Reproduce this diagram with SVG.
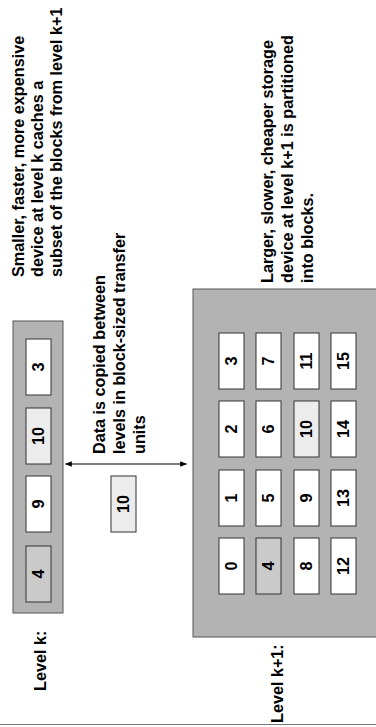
<svg xmlns="http://www.w3.org/2000/svg" width="376" height="727" viewBox="0 0 376 727">
<style>
text{font-family:"Liberation Sans",Arial,sans-serif;font-weight:bold;font-size:16.2px;fill:#000}
.num{text-anchor:middle}
.box{fill:#b3b3b3;stroke:#555;stroke-width:1}
.cell{fill:#fff;stroke:#333;stroke-width:1}
.dark{fill:#cacaca}
.light{fill:#ececec}
.conn{stroke:#000;stroke-width:1.2;fill:none}
</style>
<defs>
<marker id="ah" viewBox="0 0 10 10" refX="9" refY="5" markerWidth="7" markerHeight="7" orient="auto-start-reverse" markerUnits="userSpaceOnUse">
<path d="M0,1 L10,5 L0,9 z" fill="#000"/>
</marker>
</defs>
<rect width="376" height="727" fill="#fff"/>
<line x1="0" y1="724.5" x2="376" y2="724.5" stroke="#777" stroke-width="1"/>
<g transform="matrix(0,-1,1,0,0,727)" font-weight="bold">
<g id="levelk-label"><text x="36" y="46">Level k:</text></g>
<g id="levelk1-label"><text x="4" y="283">Level k+1:</text></g>
<g id="note-smaller">
<text x="450" y="24">Smaller, faster, more expensive</text>
<text x="450" y="43">device at level k caches a</text>
<text x="450" y="62">subset of the blocks from level k+1</text>
</g>
<g id="note-larger">
<text x="444" y="273">Larger, slower, cheaper storage</text>
<text x="444" y="293">device at level k+1 is partitioned</text>
<text x="444" y="313">into blocks.</text>
</g>
<g id="note-copy">
<text x="273" y="105">Data is copied between</text>
<text x="273" y="125">levels in block-sized transfer</text>
<text x="273" y="145">units</text>
</g>
<g id="levelk">
<rect class="box" x="114" y="13" width="292" height="50"/>
<g id="k-4"><rect class="cell dark" x="125" y="26" width="56" height="25"/><text class="num" x="153" y="44">4</text></g>
<g id="k-9"><rect class="cell" x="195" y="26" width="56" height="25"/><text class="num" x="223" y="44">9</text></g>
<g id="k-10"><rect class="cell light" x="263" y="26" width="56" height="25"/><text class="num" x="291" y="44">10</text></g>
<g id="k-3"><rect class="cell" x="332" y="26" width="56" height="25"/><text class="num" x="360" y="44">3</text></g>
</g>
<g id="transfer-10"><rect class="cell light" x="195" y="111" width="56" height="25"/><text class="num" x="223" y="129">10</text></g>
<g id="connectors">
<line class="conn" x1="263" y1="65.5" x2="263" y2="186.5" marker-start="url(#ah)" marker-end="url(#ah)"/>
</g>
<g id="levelk1">
<rect class="box" x="90" y="193" width="348" height="200"/>
<g id="b0"><rect class="cell" x="133" y="219" width="56" height="25"/><text class="num" x="161" y="237">0</text></g>
<g id="b1"><rect class="cell" x="201" y="219" width="56" height="25"/><text class="num" x="229" y="237">1</text></g>
<g id="b2"><rect class="cell" x="270" y="219" width="56" height="25"/><text class="num" x="298" y="237">2</text></g>
<g id="b3"><rect class="cell" x="338" y="219" width="56" height="25"/><text class="num" x="366" y="237">3</text></g>
<g id="b4"><rect class="cell dark" x="133" y="256" width="56" height="25"/><text class="num" x="161" y="274">4</text></g>
<g id="b5"><rect class="cell" x="201" y="256" width="56" height="25"/><text class="num" x="229" y="274">5</text></g>
<g id="b6"><rect class="cell" x="270" y="256" width="56" height="25"/><text class="num" x="298" y="274">6</text></g>
<g id="b7"><rect class="cell" x="338" y="256" width="56" height="25"/><text class="num" x="366" y="274">7</text></g>
<g id="b8"><rect class="cell" x="133" y="294" width="56" height="25"/><text class="num" x="161" y="312">8</text></g>
<g id="b9"><rect class="cell" x="201" y="294" width="56" height="25"/><text class="num" x="229" y="312">9</text></g>
<g id="b10"><rect class="cell light" x="270" y="294" width="56" height="25"/><text class="num" x="298" y="312">10</text></g>
<g id="b11"><rect class="cell" x="338" y="294" width="56" height="25"/><text class="num" x="366" y="312">11</text></g>
<g id="b12"><rect class="cell" x="133" y="331" width="56" height="25"/><text class="num" x="161" y="349">12</text></g>
<g id="b13"><rect class="cell" x="201" y="331" width="56" height="25"/><text class="num" x="229" y="349">13</text></g>
<g id="b14"><rect class="cell" x="270" y="331" width="56" height="25"/><text class="num" x="298" y="349">14</text></g>
<g id="b15"><rect class="cell" x="338" y="331" width="56" height="25"/><text class="num" x="366" y="349">15</text></g>
</g>
</g>
</svg>
